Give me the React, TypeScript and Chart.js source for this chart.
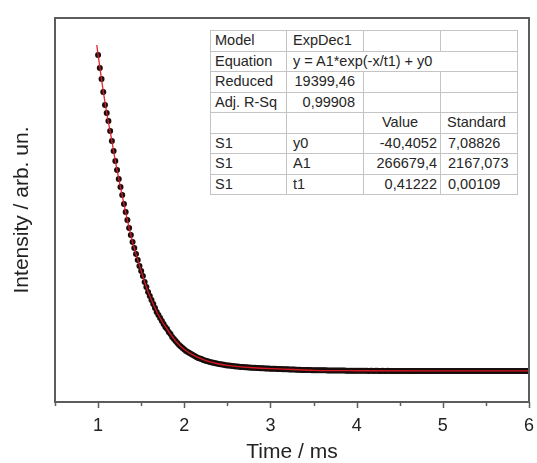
import React, { useEffect, useRef } from "react";
import { Chart, registerables } from "chart.js";

Chart.register(...registerables);

// Sampling times (ms)
const TIME_MS = [
  1.0, 1.02, 1.04, 1.06, 1.08, 1.1, 1.12, 1.14, 1.16, 1.18,
  1.2, 1.22, 1.24, 1.26, 1.28, 1.3, 1.32, 1.34, 1.36, 1.38,
  1.4, 1.42, 1.44, 1.46, 1.48, 1.5, 1.52, 1.54, 1.56, 1.58,
  1.6, 1.62, 1.64, 1.66, 1.68, 1.7, 1.72, 1.74, 1.76, 1.78,
  1.8, 1.82, 1.84, 1.86, 1.88, 1.9, 1.92, 1.94, 1.96, 1.98,
  2.0, 2.02, 2.04, 2.06, 2.08, 2.1, 2.12, 2.14, 2.16, 2.18,
  2.2, 2.22, 2.24, 2.26, 2.28, 2.3, 2.32, 2.34, 2.36, 2.38,
  2.4, 2.42, 2.44, 2.46, 2.48, 2.5, 2.52, 2.54, 2.56, 2.58,
  2.6, 2.62, 2.64, 2.66, 2.68, 2.7, 2.72, 2.74, 2.76, 2.78,
  2.8, 2.82, 2.84, 2.86, 2.88, 2.9, 2.92, 2.94, 2.96, 2.98,
  3.0, 3.02, 3.04, 3.06, 3.08, 3.1, 3.12, 3.14, 3.16, 3.18,
  3.2, 3.22, 3.24, 3.26, 3.28, 3.3, 3.32, 3.34, 3.36, 3.38,
  3.4, 3.42, 3.44, 3.46, 3.48, 3.5, 3.52, 3.54, 3.56, 3.58,
  3.6, 3.62, 3.64, 3.66, 3.68, 3.7, 3.72, 3.74, 3.76, 3.78,
  3.8, 3.82, 3.84, 3.86, 3.88, 3.9, 3.92, 3.94, 3.96, 3.98,
  4.0, 4.02, 4.04, 4.06, 4.08, 4.1, 4.12, 4.14, 4.16, 4.18,
  4.2, 4.22, 4.24, 4.26, 4.28, 4.3, 4.32, 4.34, 4.36, 4.38,
  4.4, 4.42, 4.44, 4.46, 4.48, 4.5, 4.52, 4.54, 4.56, 4.58,
  4.6, 4.62, 4.64, 4.66, 4.68, 4.7, 4.72, 4.74, 4.76, 4.78,
  4.8, 4.82, 4.84, 4.86, 4.88, 4.9, 4.92, 4.94, 4.96, 4.98,
  5.0, 5.02, 5.04, 5.06, 5.08, 5.1, 5.12, 5.14, 5.16, 5.18,
  5.2, 5.22, 5.24, 5.26, 5.28, 5.3, 5.32, 5.34, 5.36, 5.38,
  5.4, 5.42, 5.44, 5.46, 5.48, 5.5, 5.52, 5.54, 5.56, 5.58,
  5.6, 5.62, 5.64, 5.66, 5.68, 5.7, 5.72, 5.74, 5.76, 5.78,
  5.8, 5.82, 5.84, 5.86, 5.88, 5.9, 5.92, 5.94, 5.96, 5.98,
  6.0,
];

// Measured intensity (arb. un.)
const INTENSITY = [
  23570, 22590, 21770, 20800, 19830, 19230, 18640, 17890, 17140, 16390,
  15650, 14970, 14300, 13700, 13110, 12430, 11840, 11240, 10640, 10120,
  9600, 9150, 8700, 8250, 7800, 7430, 7060, 6610, 6230, 5860,
  5560, 5260, 4960, 4670, 4370, 4140, 3920, 3700, 3470, 3250,
  3100, 2870, 2720, 2500, 2350, 2200, 2050, 1900, 1790, 1680,
  1570, 1450, 1380, 1300, 1230, 1160, 1080, 1010, 930, 890,
  860, 780, 740, 710, 670, 630, 600, 570, 540, 510,
  480, 460, 440, 420, 390, 370, 360, 340, 330, 310,
  300, 285, 275, 260, 250, 240, 230, 220, 215, 205,
  200, 190, 185, 175, 170, 160, 155, 145, 140, 140,
  130, 125, 120, 115, 110, 105, 100, 95, 90, 85,
  80, 75, 70, 65, 60, 55, 50, 45, 40, 35,
  30, 28, 22, 25, 18, 15, 16, 10, 8, 12,
  5, 3, 6, 0, -2, 2, -5, -8, -4, -10,
  -12, -9, -15, -14, -18, -16, -20, -22, -19, -24,
  -25, -28, -30, -27, -33, -31, -29, -35, -32, -30,
  -36, -34, -31, -37, -35, -33, -38, -36, -34, -39,
  -37, -35, -40, -38, -36, -41, -39, -37, -42, -40,
  -38, -43, -39, -41, -44, -40, -38, -42, -45, -41,
  -39, -43, -40, -44, -42, -38, -45, -41, -43, -39,
  -46, -42, -40, -44, -41, -43, -45, -39, -42, -44,
  -40, -46, -41, -43, -39, -45, -42, -40, -44, -41,
  -43, -38, -45, -42, -40, -44, -41, -39, -43, -46,
  -40, -42, -44, -39, -41, -45, -43, -40, -42, -38,
  -44, -41, -43, -39, -45, -42, -40, -44, -41, -43,
  -42,
];

// Fitted curve (ExpDec1)
const FIT_TIME_MS = [
  0.985, 1.0, 1.05, 1.1, 1.15, 1.2, 1.25, 1.3, 1.35, 1.4, 1.45, 1.5, 1.55,
  1.6, 1.65, 1.7, 1.75, 1.8, 1.85, 1.9, 1.95, 2.0, 2.1, 2.2, 2.3, 2.4, 2.5,
  2.6, 2.8, 3.0, 3.25, 3.5, 4.0, 5.0, 6.0,
];
const FIT_INTENSITY = [
  24310, 23570, 21290, 19230, 17510, 15650, 14000, 12430, 10940, 9600, 8480,
  7430, 6420, 5560, 4820, 4140, 3580, 3100, 2610, 2200, 1840, 1570, 1160, 860,
  630, 480, 370, 300, 200, 130, 70, 10, -25, -40, -40,
];

const X_MIN = 0.5;
const X_MAX = 6;
const X_STEP = 0.5;
const Y_MIN = -2360;
const Y_MAX = 26330;

const X_TITLE = "Time / ms";
const Y_TITLE = "Intensity / arb. un.";

// Fit result table
const TABLE_ROW_LABELS = ["Model", "Equation", "Reduced", "Adj. R-Sq", "", "S1", "S1", "S1"];
const TABLE_PARAM_NAMES = ["y0", "A1", "t1"];
const TABLE_VALUES = ["-40,4052", "266679,4", "0,41222"];
const TABLE_ERRORS = ["7,08826", "2167,073", "0,00109"];
const MODEL_NAME = "ExpDec1";
const EQUATION = "y = A1*exp(-x/t1) + y0";
const REDUCED_CHI = "19399,46";
const ADJ_R2 = "0,99908";

const FONT = "'Liberation Sans', Arial, Helvetica, sans-serif";
const AXIS_COLOR = "#5c5c5c";

const framePlugin = {
  id: "frame",
  afterDraw(chart: any) {
    const { ctx, chartArea: a } = chart;
    const xs = chart.scales.x;
    ctx.save();
    ctx.strokeStyle = AXIS_COLOR;
    // outward ticks on the bottom axis: long at integers, short at halves
    ctx.lineWidth = 1.5;
    xs.ticks.forEach((t: any) => {
      const v = Number(t.value);
      const major = Math.abs(v - Math.round(v)) < 1e-6;
      const px = Math.round(xs.getPixelForValue(v)) + 0.5;
      ctx.beginPath();
      ctx.moveTo(px, a.bottom);
      ctx.lineTo(px, a.bottom + (major ? 6 : 4));
      ctx.stroke();
    });
    ctx.lineWidth = 2;
    ctx.strokeRect(a.left, a.top, a.right - a.left, a.bottom - a.top);
    ctx.restore();
  },
};

function FitTable() {
  const outer = "1px solid #8a8a8a";
  const inner = "1px solid #c4c4c4";
  const cell = (extra: React.CSSProperties = {}): React.CSSProperties => ({
    padding: "0 4px",
    border: inner,
    height: 19.5,
    whiteSpace: "nowrap",
    overflow: "visible",
    lineHeight: "19px",
    ...extra,
  });
  return (
    <table
      style={{
        position: "absolute",
        left: 210,
        top: 30,
        width: 307,
        borderCollapse: "collapse",
        tableLayout: "fixed",
        border: outer,
        fontFamily: FONT,
        fontSize: 14.5,
        color: "#262626",
        background: "#fff",
      }}
    >
      <colgroup>
        <col style={{ width: 76 }} />
        <col style={{ width: 77 }} />
        <col style={{ width: 77 }} />
        <col style={{ width: 77 }} />
      </colgroup>
      <tbody>
        <tr>
          <td style={cell()}>{TABLE_ROW_LABELS[0]}</td>
          <td style={cell({ paddingLeft: 6 })}>{MODEL_NAME}</td>
          <td style={cell()}></td>
          <td style={cell()}></td>
        </tr>
        <tr>
          <td style={cell()}>{TABLE_ROW_LABELS[1]}</td>
          <td style={cell({ paddingLeft: 6 })} colSpan={3}>{EQUATION}</td>
        </tr>
        <tr>
          <td style={cell()}>{TABLE_ROW_LABELS[2]}</td>
          <td style={cell({ textAlign: "right", paddingRight: 8 })}>{REDUCED_CHI}</td>
          <td style={cell()}></td>
          <td style={cell()}></td>
        </tr>
        <tr>
          <td style={cell()}>{TABLE_ROW_LABELS[3]}</td>
          <td style={cell({ textAlign: "right", paddingRight: 8 })}>{ADJ_R2}</td>
          <td style={cell()}></td>
          <td style={cell()}></td>
        </tr>
        <tr>
          <td style={cell()}>{TABLE_ROW_LABELS[4]}</td>
          <td style={cell()}></td>
          <td style={cell({ paddingLeft: 18 })}>Value</td>
          <td style={cell({ paddingLeft: 6 })}>Standard</td>
        </tr>
        {TABLE_PARAM_NAMES.map((p, i) => (
          <tr key={p}>
            <td style={cell()}>{TABLE_ROW_LABELS[5 + i]}</td>
            <td style={cell({ paddingLeft: 6 })}>{p}</td>
            <td style={cell({ textAlign: "right", paddingRight: 3 })}>{TABLE_VALUES[i]}</td>
            <td style={cell({ paddingLeft: 7 })}>{TABLE_ERRORS[i]}</td>
          </tr>
        ))}
      </tbody>
    </table>
  );
}

export default function App() {
  const canvasRef = useRef<HTMLCanvasElement | null>(null);

  useEffect(() => {
    if (!canvasRef.current) return;
    const points = TIME_MS.map((t, i) => ({ x: t, y: INTENSITY[i] }));
    const fit = FIT_TIME_MS.map((t, i) => ({ x: t, y: FIT_INTENSITY[i] }));

    const chart = new Chart(canvasRef.current, {
      type: "scatter",
      data: {
        datasets: [
          {
            label: "Fit",
            data: fit,
            showLine: true,
            borderColor: "rgba(225, 25, 35, 0.95)",
            borderWidth: 1.3,
            pointRadius: 0,
            cubicInterpolationMode: "monotone",
            order: 0,
          } as any,
          {
            label: "Data",
            data: points,
            showLine: false,
            backgroundColor: "#170d0d",
            borderWidth: 0,
            pointRadius: 3,
            order: 1,
          },
        ],
      },
      options: {
        responsive: false,
        animation: false,
        layout: { padding: { left: 0, right: 8, top: 18, bottom: 0 } },
        plugins: {
          legend: { display: false },
          tooltip: { enabled: false },
        },
        scales: {
          x: {
            type: "linear",
            min: X_MIN,
            max: X_MAX,
            afterFit: (s: any) => {
              s.height = 61;
              s.paddingLeft = 0;
              s.paddingRight = 0;
            },
            border: { display: false },
            grid: {
              display: true,
              drawOnChartArea: false,
              drawTicks: true,
              tickLength: 6,
              tickColor: "rgba(0,0,0,0)",
              tickWidth: 0,
            },
            ticks: {
              stepSize: X_STEP,
              autoSkip: false,
              maxRotation: 0,
              padding: 7,
              color: "#222",
              font: { family: FONT, size: 18 },
              callback: (v: any) => {
                const n = Number(v);
                return Math.abs(n - Math.round(n)) < 1e-6 && n >= 1 ? String(Math.round(n)) : "";
              },
            },
            title: {
              display: true,
              text: X_TITLE,
              color: "#222",
              font: { family: FONT, size: 21, lineHeight: 1 },
              padding: { top: 0, bottom: 0 },
            },
          },
          y: {
            type: "linear",
            min: Y_MIN,
            max: Y_MAX,
            afterFit: (s: any) => {
              s.width = 55;
              s.paddingTop = 0;
              s.paddingBottom = 0;
            },
            border: { display: false },
            grid: { display: false },
            ticks: { display: false },
            title: {
              display: true,
              text: Y_TITLE,
              color: "#222",
              font: { family: FONT, size: 21, lineHeight: 1 },
              padding: { top: 12, bottom: 0 },
            },
          },
        },
      },
      plugins: [framePlugin],
    });
    return () => chart.destroy();
  }, []);

  return (
    <div
      style={{
        position: "fixed",
        left: 0,
        top: 0,
        width: 537,
        height: 463,
        background: "#fff",
        overflow: "hidden",
      }}
    >
      <canvas ref={canvasRef} width={537} height={463} style={{ display: "block" }} />
      <FitTable />
    </div>
  );
}
